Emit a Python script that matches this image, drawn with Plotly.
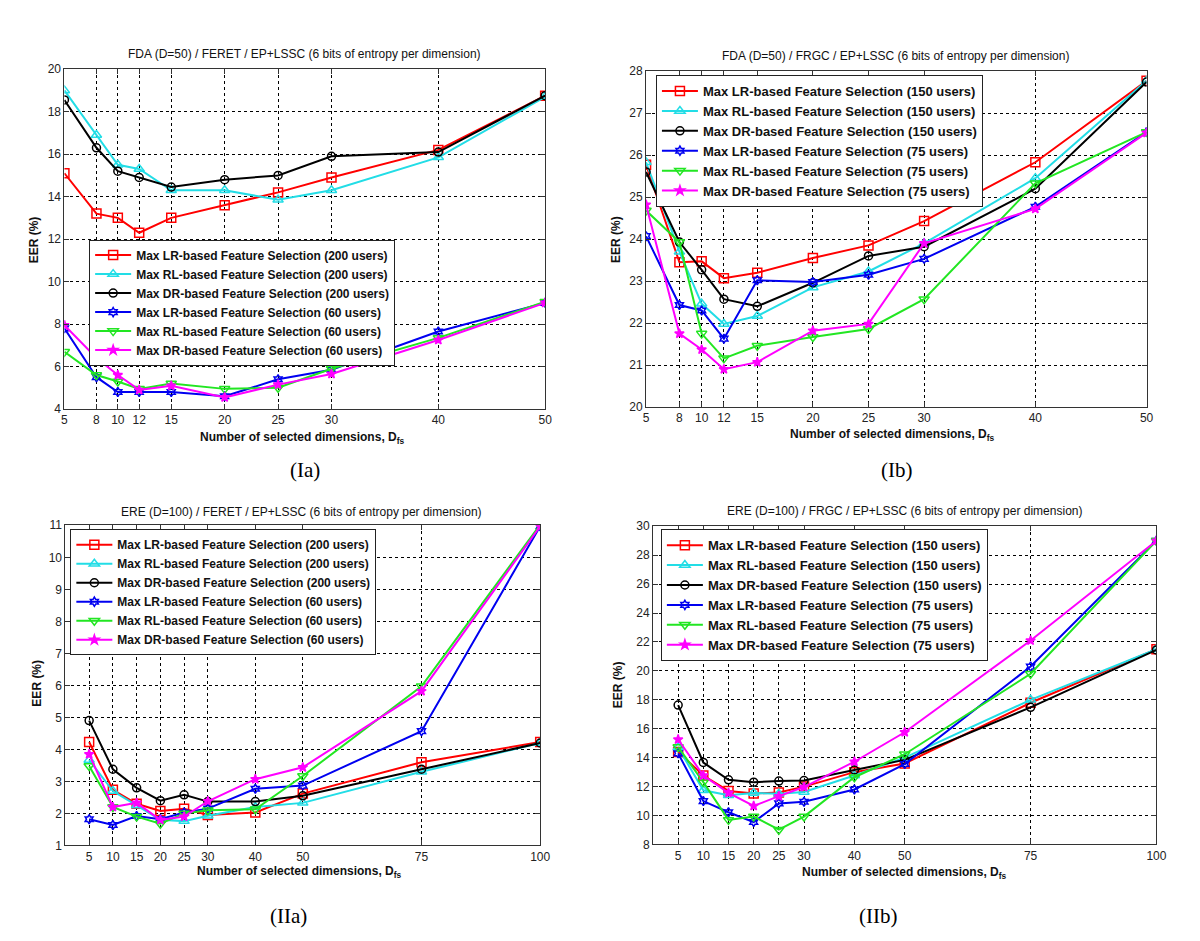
import plotly.graph_objects as go

# ---------------- Data ----------------
x_I = [5, 8, 10, 12, 15, 20, 25, 30, 40, 50]
x_II = [5, 10, 15, 20, 25, 30, 40, 50, 75, 100]

# (Ia) FDA / FERET
Ia_LR200 = [15.1, 13.2, 13.0, 12.3, 13.0, 13.6, 14.2, 14.9, 16.2, 18.75]
Ia_RL200 = [19.0, 16.9, 15.5, 15.3, 14.3, 14.3, 13.85, 14.3, 15.85, 18.7]
Ia_DR200 = [18.55, 16.3, 15.2, 14.9, 14.45, 14.8, 15.0, 15.9, 16.1, 18.75]
Ia_LR60 = [7.8, 5.5, 4.8, 4.8, 4.8, 4.6, 5.4, 5.85, 7.65, 9.0]
Ia_RL60 = [6.7, 5.6, 5.3, 4.95, 5.2, 4.95, 5.0, 5.9, 7.35, 9.05]
Ia_DR60 = [7.95, 6.4, 5.6, 4.9, 5.1, 4.55, 5.15, 5.65, 7.25, 9.0]

# (Ib) FDA / FRGC
Ib_LR150 = [25.77, 23.45, 23.47, 23.07, 23.2, 23.55, 23.85, 24.43, 25.83, 27.77]
Ib_RL150 = [25.83, 23.7, 22.46, 21.98, 22.17, 22.85, 23.23, 23.9, 25.45, 27.77]
Ib_DR150 = [25.6, 23.93, 23.27, 22.57, 22.4, 22.96, 23.6, 23.82, 25.2, 27.74]
Ib_LR75 = [24.07, 22.43, 22.3, 21.63, 23.02, 22.98, 23.15, 23.53, 24.77, 26.55]
Ib_RL75 = [24.68, 23.93, 21.75, 21.16, 21.46, 21.67, 21.86, 22.57, 25.33, 26.55]
Ib_DR75 = [24.82, 21.75, 21.37, 20.9, 21.07, 21.82, 21.98, 23.9, 24.72, 26.53]

# (IIa) ERE / FERET
IIa_LR200 = [4.23, 2.74, 2.3, 2.08, 2.15, 1.95, 2.03, 2.62, 3.6, 4.23]
IIa_RL200 = [3.67, 2.7, 2.25, 1.8, 1.76, 1.93, 2.2, 2.33, 3.3, 4.2]
IIa_DR200 = [4.9, 3.38, 2.8, 2.4, 2.58, 2.37, 2.37, 2.55, 3.38, 4.2]
IIa_LR60 = [1.82, 1.64, 1.92, 1.82, 2.03, 2.15, 2.77, 2.87, 4.57, 10.97]
IIa_RL60 = [3.48, 2.2, 1.9, 1.68, 2.0, 2.1, 2.13, 3.17, 5.97, 11.02]
IIa_DR60 = [3.85, 2.2, 2.33, 1.8, 1.9, 2.38, 3.07, 3.44, 5.82, 10.97]

# (IIb) ERE / FRGC
IIb_LR150 = [14.4, 12.77, 11.7, 11.52, 11.6, 12.0, 13.0, 13.6, 17.8, 21.5]
IIb_RL150 = [14.7, 11.75, 11.4, 11.56, 11.5, 11.63, 12.77, 14.0, 18.0, 21.5]
IIb_DR150 = [17.64, 13.67, 12.47, 12.31, 12.38, 12.42, 13.15, 13.85, 17.48, 21.45]
IIb_LR75 = [14.3, 11.0, 10.23, 9.55, 10.84, 10.95, 11.8, 13.56, 20.3, 29.0]
IIb_RL75 = [14.74, 12.31, 9.7, 9.93, 9.02, 9.93, 12.65, 14.24, 19.8, 29.0]
IIb_DR75 = [15.26, 12.77, 11.57, 10.66, 11.34, 11.97, 13.72, 15.76, 22.1, 29.0]

names_I = ["Max LR-based Feature Selection (200 users)",
           "Max RL-based Feature Selection (200 users)",
           "Max DR-based Feature Selection (200 users)",
           "Max LR-based Feature Selection (60 users)",
           "Max RL-based Feature Selection (60 users)",
           "Max DR-based Feature Selection (60 users)"]
names_F = ["Max LR-based Feature Selection (150 users)",
           "Max RL-based Feature Selection (150 users)",
           "Max DR-based Feature Selection (150 users)",
           "Max LR-based Feature Selection (75 users)",
           "Max RL-based Feature Selection (75 users)",
           "Max DR-based Feature Selection (75 users)"]

titles = ["FDA (D=50) / FERET / EP+LSSC (6 bits of entropy per dimension)",
          "FDA (D=50) / FRGC / EP+LSSC (6 bits of entropy per dimension)",
          "ERE (D=100) / FERET / EP+LSSC (6 bits of entropy per dimension)",
          "ERE (D=100) / FRGC / EP+LSSC (6 bits of entropy per dimension)"]
captions = ["(Ia)", "(Ib)", "(IIa)", "(IIb)"]

# ---------------- Styles ----------------
colors = ["#FF0000", "#22DDE6", "#000000", "#0000F0", "#22E622", "#FF00FF"]
symbols = ["square-open", "triangle-up-open", "circle-open", "hexagram-open",
           "triangle-down-open", "star"]
msizes = [9, 9, 8, 7, 9, 7]
FONT = "Liberation Sans, Arial, sans-serif"

fig = go.Figure()

panels = [
    (x_I, [Ia_LR200, Ia_RL200, Ia_DR200, Ia_LR60, Ia_RL60, Ia_DR60], names_I, "", "legend"),
    (x_I, [Ib_LR150, Ib_RL150, Ib_DR150, Ib_LR75, Ib_RL75, Ib_DR75], names_F, "2", "legend2"),
    (x_II, [IIa_LR200, IIa_RL200, IIa_DR200, IIa_LR60, IIa_RL60, IIa_DR60], names_I, "3", "legend3"),
    (x_II, [IIb_LR150, IIb_RL150, IIb_DR150, IIb_LR75, IIb_RL75, IIb_DR75], names_F, "4", "legend4"),
]

for xs, series, names, ax, leg in panels:
    for i, ys in enumerate(series):
        fig.add_trace(go.Scatter(
            x=xs, y=ys, mode="lines+markers", name=names[i],
            line=dict(color=colors[i], width=2),
            marker=dict(symbol=symbols[i], size=msizes[i], color=colors[i],
                        line=dict(color=colors[i], width=1.5)),
            xaxis="x" + ax, yaxis="y" + ax, legend=leg))

W, H = 1200, 941
def px(v): return v / W
def py(v): return 1 - v / H

# (left, right), (top, bottom) in pixels
domains = [
    ((54, 540), (55, 400)),
    ((642, 1148), (57, 398)),
    ((55, 535), (518, 843)),
    ((649, 1158), (519, 842)),
]
xranges = [[5, 50], [5, 50], [0, 100], [0, 100]]
yranges = [[4, 20], [20, 28], [1, 11], [8, 30]]
ydticks = [2, 1, 1, 2]

axis_common = dict(showline=True, linecolor="#333", linewidth=1, mirror="ticks",
                   ticks="inside", ticklen=5, tickcolor="#333",
                   showgrid=True, gridcolor="black", griddash="dot", gridwidth=1,
                   zeroline=False, tickfont=dict(family=FONT, size=12, color="#222"))

layout = dict(width=W, height=H, margin=dict(l=0, r=0, t=0, b=0),
              paper_bgcolor="white", plot_bgcolor="white", showlegend=True)

for k in range(4):
    sfx = "" if k == 0 else str(k + 1)
    (x0, x1), (y0, y1) = domains[k]
    xa = dict(axis_common)
    xa.update(domain=[px(x0), px(x1)], range=xranges[k], tickmode="array",
              tickvals=x_I if k < 2 else x_II, anchor="y" + sfx)
    ya = dict(axis_common)
    ya.update(domain=[py(y1), py(y0)], range=yranges[k], dtick=ydticks[k],
              anchor="x" + sfx)
    layout["xaxis" + sfx] = xa
    layout["yaxis" + sfx] = ya

legpos = [(79, 228), (652, 61), (60, 522), (657, 522)]
legsize = [12, 13, 12, 13]
for k in range(4):
    key = "legend" if k == 0 else "legend" + str(k + 1)
    layout[key] = dict(x=px(legpos[k][0]), y=py(legpos[k][1]), xanchor="left", yanchor="top",
                       bgcolor="white", bordercolor="#222", borderwidth=1,
                       font=dict(family=FONT, size=legsize[k], color="#111", weight="bold"),
                       itemwidth=36, tracegroupgap=0)

fig.update_layout(**layout)

annots = []
title_pos = [(297, 40), (894, 42), (294, 504), (903, 503)]
xt_pos = [(295, 429), (891, 426), (292, 870), (903, 871)]
yt_pos = [(23, 228), (611, 228), (26, 678), (614, 680)]
cap_pos = [(297, 462), (895, 462), (281, 915), (876, 915)]
for k in range(4):
    annots.append(dict(x=px(title_pos[k][0]), y=py(title_pos[k][1]), xref="paper", yref="paper",
                       text=titles[k], showarrow=False, xanchor="center", yanchor="middle",
                       font=dict(family=FONT, size=12, color="#111")))
    annots.append(dict(x=px(xt_pos[k][0]), y=py(xt_pos[k][1]), xref="paper", yref="paper",
                       text="<b>Number of selected dimensions, D<sub>fs</sub></b>", showarrow=False,
                       xanchor="center", yanchor="middle",
                       font=dict(family=FONT, size=12, color="#111")))
    annots.append(dict(x=px(yt_pos[k][0]), y=py(yt_pos[k][1]), xref="paper", yref="paper",
                       text="<b>EER (%)</b>", showarrow=False, textangle=-90,
                       xanchor="center", yanchor="middle",
                       font=dict(family=FONT, size=12, color="#111")))
    annots.append(dict(x=px(cap_pos[k][0]), y=py(cap_pos[k][1]), xref="paper", yref="paper",
                       text=captions[k], showarrow=False, xanchor="center", yanchor="middle",
                       font=dict(family="Liberation Serif, Times New Roman, serif", size=21,
                                 color="black")))
fig.update_layout(annotations=annots)

fig.write_html("out.html")
